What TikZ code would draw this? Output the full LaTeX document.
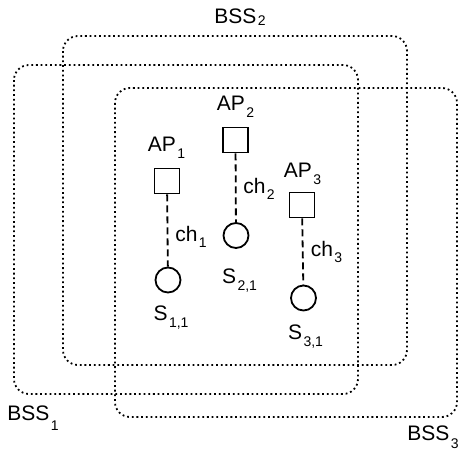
\documentclass[tikz,border=0pt]{standalone}
\usepackage{fontspec}
\setmainfont{Liberation Sans}
\newcommand{\lowsub}[2][7pt]{\hspace{1.5pt}\raisebox{-#1}{\fontsize{14}{14}\selectfont #2}}

\begin{document}
\begin{tikzpicture}[x=1pt,y=1pt]
\tikzstyle{every node}+=[inner sep=0pt, font=\fontsize{21}{25}\selectfont]
\tikzstyle{bss}=[line width=1.8pt, dash pattern=on 1.8pt off 2.9pt, rounded corners=15pt]
\tikzstyle{ap}=[draw, line width=1.8pt, minimum size=25pt]
\tikzstyle{sta}=[draw, circle, line width=1.8pt, minimum size=25pt]
\tikzstyle{link}=[line width=1.8pt, dash pattern=on 7pt off 4pt]
\useasboundingbox (0,0) rectangle (459,-453);
% coverage areas
\draw [bss] (14,-65) rectangle (358,-394);
\draw [bss] (63,-36) rectangle (407,-365);
\draw [bss] (115,-88) rectangle (457,-417);
\node [anchor=base] (bss1) at (33,-420) {BSS\lowsub[10pt]{1}};
\node [anchor=base] (bss2) at (240,-23) {BSS\lowsub[2.5pt]{2}};
\node [anchor=base] (bss3) at (433,-440) {BSS\lowsub[8pt]{3}};
% access points and stations
\node [ap] (ap1) at (167,-181) {};
\node [ap] (ap2) at (235.5,-140) {};
\node [ap] (ap3) at (302,-205) {};
\node [sta] (s11) at (168,-280) {};
\node [sta] (s21) at (236,-235.5) {};
\node [sta] (s31) at (303.5,-298) {};
\node [anchor=base] (ap1lbl) at (166.5,-151) {AP\lowsub{1}};
\node [anchor=base] (ap2lbl) at (235.5,-110) {AP\lowsub{2}};
\node [anchor=base] (ap3lbl) at (302.5,-177) {AP\lowsub{3}};
\node [anchor=base] (s11lbl) at (171,-320) {S\lowsub{1,1}};
\node [anchor=base] (s21lbl) at (239.5,-283) {S\lowsub{2,1}};
\node [anchor=base] (s31lbl) at (305.5,-339) {S\lowsub{3,1}};
% channels
\draw [link] (ap1) -- (s11);
\draw [link] (ap2) -- (s21);
\draw [link] (ap3) -- (s31);
\node [anchor=base] (ch1) at (191,-241) {ch\lowsub[6pt]{1}};
\node [anchor=base] (ch2) at (259,-193) {ch\lowsub[6pt]{2}};
\node [anchor=base] (ch3) at (326.5,-256) {ch\lowsub[6pt]{3}};
\end{tikzpicture}
\end{document}
